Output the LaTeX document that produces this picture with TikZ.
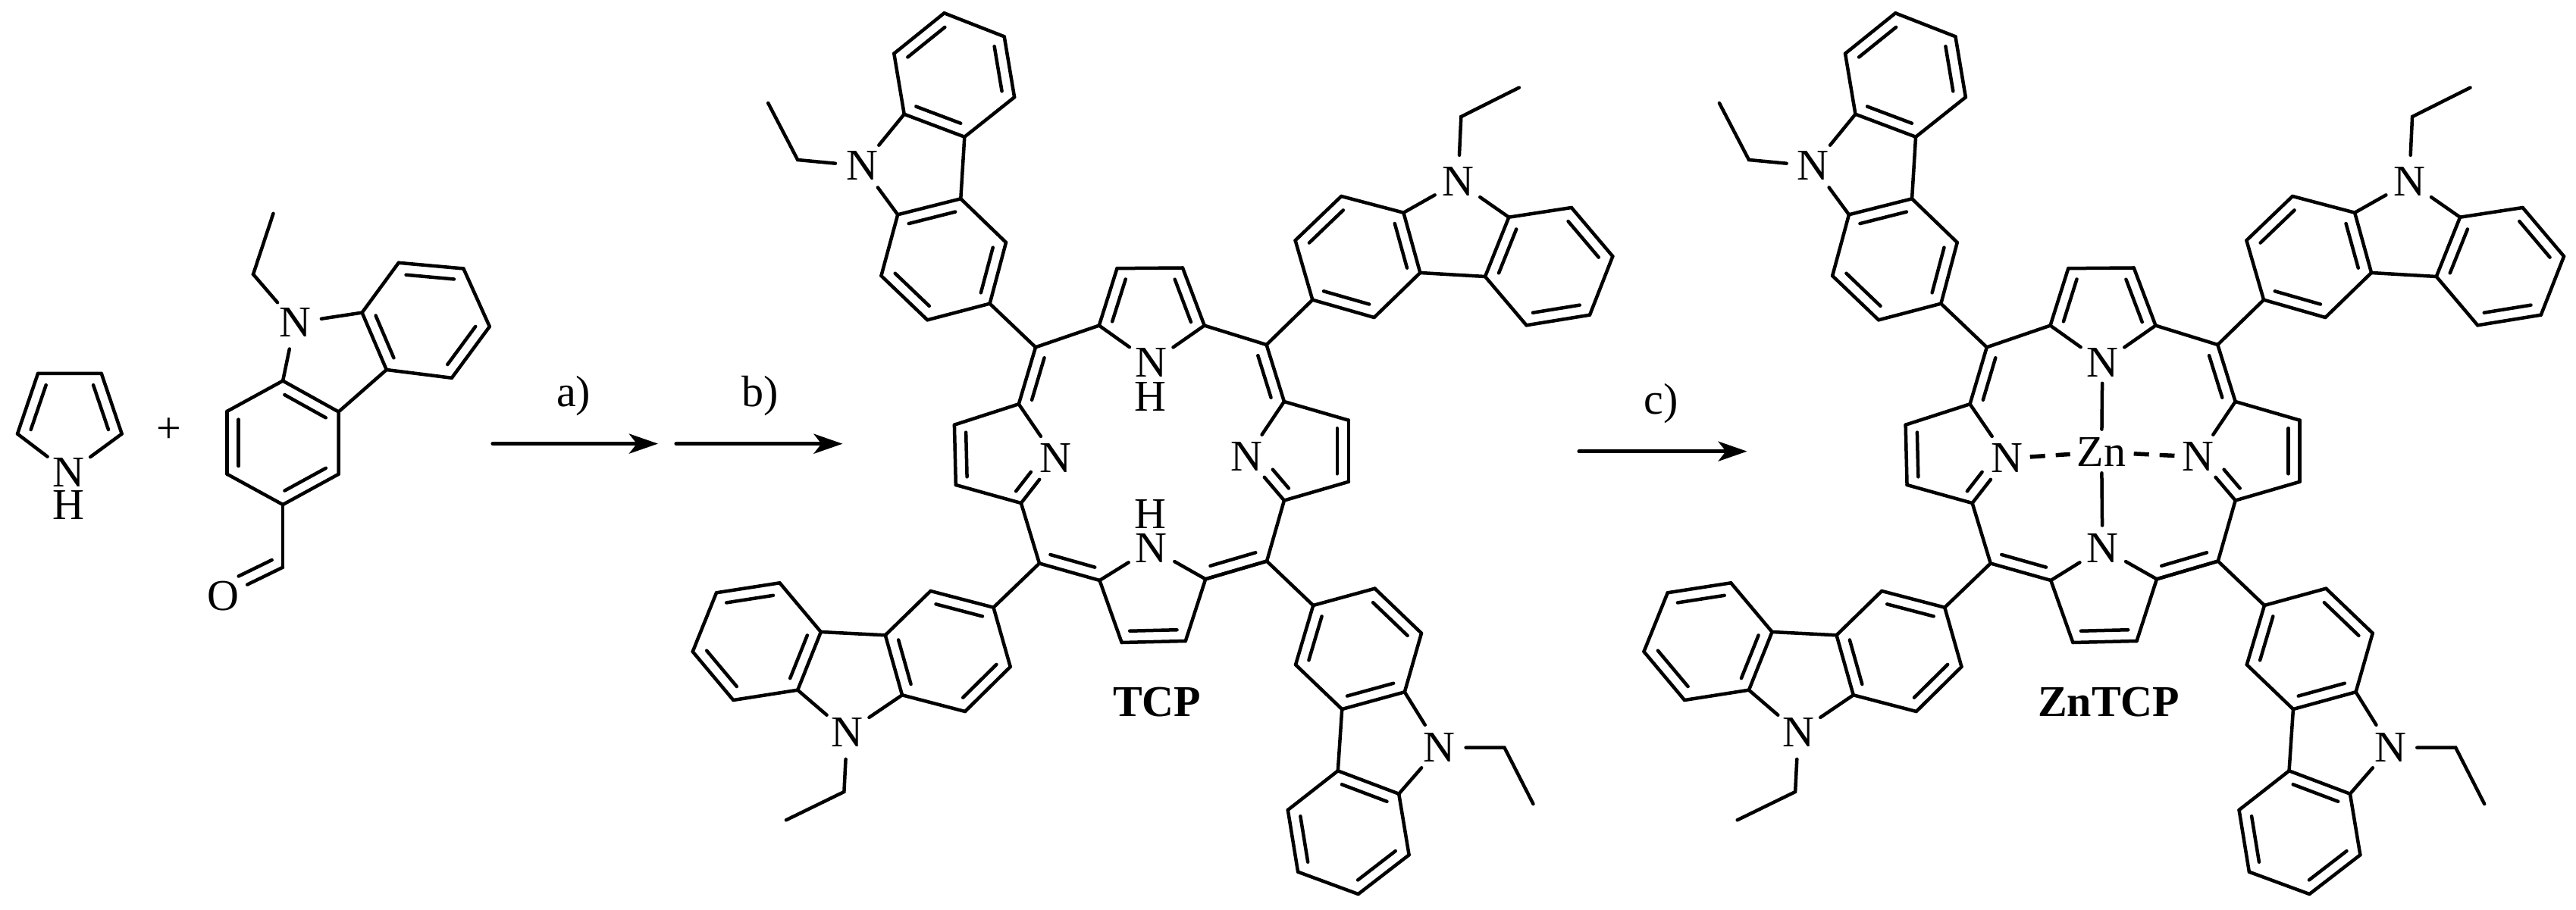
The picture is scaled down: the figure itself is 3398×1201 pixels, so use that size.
\documentclass[tikz,border=0pt]{standalone}
\usepackage{fontspec}
\setmainfont{Liberation Serif}
\usetikzlibrary{calc}
\usetikzlibrary{arrows.meta}

\tikzset{
atom/.style={circle, minimum size=.66cm, inner sep=0pt},
tag/.style={inner sep=0pt},
rxn/.style={line width=.052cm, -{Stealth[length=.38cm,width=.26cm,inset=.1cm]}},
dash bond/.style={line cap=butt, line width=.055cm, dash pattern=on .2cm off .14cm}
}
\newcommand{\dblf}[4]{\draw (#3) -- (#4);
\draw ($(#3)!#1!(#4)!.15cm!90:(#4)$) -- ($(#3)!#2!(#4)!.15cm!90:(#4)$);}
\newcommand{\dbl}[2]{\dblf{.13}{.87}{#1}{#2}}

% u ring carries the substituent at u4, v ring is the far one
\newcommand{\carbazole}[2]{
\begin{scope}[name prefix=#1-]
\foreach \n/\x/\y in {#2}{\coordinate (\n) at (\x,\y);}
\node[atom] (N) at (nc) {N};
\dbl{u2}{u1} \dbl{u4}{u3} \dbl{u6}{u5}
\dbl{v1}{v2} \dbl{v3}{v4} \dbl{v5}{v6}
\draw (u2)--(u3) (u4)--(u5) (u6)--(u1);
\draw (v2)--(v3) (v4)--(v5) (v6)--(v1);
\draw (u2)--(v2);
\draw (N)--(u1) (N)--(v1) (N)--(e1)--(e2);
\end{scope}
}

\newcommand{\tcpframe}[1]{
\carbazole{#1tl}{u1/1184.2/283.3, u2/1267.3/262.3, u3/1327/320, u4/1305.6/400.7, u5/1223.3/422.3, u6/1162.4/364,
 v1/1192.7/150.7, v2/1272.3/180.7, v3/1338.1/128.3, v4/1324.7/48.3, v5/1245.5/17.3, v6/1179.3/70.7,
 nc/1137/219, e1/1052.2/211, e2/1013.2/136}
\carbazole{#1tr}{u1/1851.4/280.7, u2/1873.3/360, u3/1812.6/419, u4/1731.3/395.7, u5/1708.6/317.3, u6/1769.3/259,
 v1/1990.3/286.7, v2/1959/365, v3/2013.5/429.3, v4/2097/415.7, v5/2127.3/338.3, v6/2072.9/274,
 nc/1923.3/240, e1/1927.3/154, e2/2003.7/115.7}
\carbazole{#1bl}{u1/1190/917.3, u2/1167.8/838.3, u3/1227.5/780, u4/1310.5/801.7, u5/1332.7/880, u6/1273/939,
 v1/1052.2/910.7, v2/1082.8/834, v3/1028.5/769.3, v4/945/782.3, v5/913.7/860, v6/967.3/924,
 nc/1117.3/966.7, e1/1113.4/1045, e2/1036.9/1082.3}
\carbazole{#1br}{u1/1852.8/913.3, u2/1770.2/936, u3/1709/877.3, u4/1732.2/799, u5/1813.5/776.7, u6/1875/835.7,
 v1/1845.2/1047.7, v2/1764.8/1017.3, v3/1698.8/1069, v4/1712.1/1150.7, v5/1791.6/1180, v6/1858.6/1128.3,
 nc/1898.3/986.7, e1/1984.5/986.7, e2/2022.4/1061}
\begin{scope}[name prefix=#1]
\foreach \n/\x/\y in {m1/1366/458.3, m2/1670.6/455, m3/1671/740.6, m4/1371/743.5,
 ta1/1449.8/429.6, ta2/1473.5/354.2, ta3/1560/353.5, ta4/1588.7/429.6,
 ra1/1693.9/530, rb1/1778.9/554.7, rb2/1778.9/635.8, ra2/1693.9/660.5,
 ba1/1590.2/764.3, bb1/1563.8/846, bb2/1479.6/848, ba2/1450.5/766,
 la1/1343.8/533.3, lb1/1258.9/560.7, lb2/1260.8/640, la2/1346.9/664}{\coordinate (\n) at (\x,\y);}
\node[atom] (Nt) at (1518.6,478.6) {N};
\node[atom] (Nr) at (1644.9,603) {N};
\node[atom] (Nb) at (1518.6,723.7) {N};
\node[atom] (Nl) at (1392.8,605) {N};
\draw (m1)--(tl-u4) (m2)--(tr-u4) (m3)--(br-u4) (m4)--(bl-u4);
\draw (m1)--(ta1) (ta2)--(ta3) (ta4)--(m2) (Nt)--(ta1) (Nt)--(ta4);
\dbl{ta2}{ta1} \dbl{ta4}{ta3}
\draw (ra1)--(rb1) (rb2)--(ra2) (ra2)--(m3) (Nr)--(ra1);
\dbl{ra1}{m2} \dbl{rb2}{rb1} \dblf{.46}{.89}{Nr}{ra2}
\draw (m3)--(ba1) (ba1)--(bb1) (bb2)--(ba2) (Nb)--(ba1) (Nb)--(ba2);
\dbl{ba1}{m3} \dbl{bb2}{bb1} \dbl{m4}{ba2}
\draw (la1)--(lb1) (lb2)--(la2) (la2)--(m4) (Nl)--(la1);
\dbl{m1}{la1} \dbl{lb1}{lb2} \dblf{.11}{.54}{la2}{Nl}
\end{scope}
}

\begin{document}
\begin{tikzpicture}[x=.01cm, y=-.01cm, line width=.045cm, line cap=round,
font=\fontsize{16.5}{20}\selectfont]
\useasboundingbox (0,0) rectangle (3398,1201);

% pyrrole
\node[atom] (pyN) at (90.7,624) {N};
\node[tag] (pyH) at (90.7,667) {H};
\foreach \n/\x/\y in {py1/23/572.6, py2/50/493, py3/133.8/493, py4/160.7/572.6}{\coordinate (\n) at (\x,\y);}
\draw (pyN)--(py1) (py2)--(py3) (py4)--(pyN);
\dbl{py2}{py1} \dbl{py4}{py3}
\node[tag] (plus) at (222.7,568.4) {+};

% aldehyde
\carbazole{ca}{u1/373.1/502.6, u2/446.6/543.5, u3/446.6/625.8, u4/373.1/666, u5/299.7/625.8, u6/299.7/542.8,
 v1/477.6/412.6, v2/509.8/488, v3/595.9/498.8, v4/645.8/431, v5/611.4/354.5, v6/525.8/346.8,
 nc/389/426, e1/334/362, e2/360.5/281.8}
\coordinate (cho) at (373.1,748.7);
\node[atom] (oxy) at (294.5,787) {O};
\draw (ca-u4)--(cho);
\dblf{.34}{.9}{oxy}{cho}

% arrows
\coordinate (a0) at (650,585.6);
\coordinate (a1) at (868,585.6);
\coordinate (b0) at (892,585.7);
\coordinate (b1) at (1111.5,585.7);
\coordinate (c0) at (2083,595.7);
\coordinate (c1) at (2304.6,595.7);
\draw[rxn] (a0)--(a1);
\draw[rxn] (b0)--(b1);
\draw[rxn] (c0)--(c1);
\node[tag] (la) at (756.6,522.5) {a)};
\node[tag] (lb) at (1002.5,523) {b)};
\node[tag] (lc) at (2190.8,533) {c)};

% free base
\tcpframe{p}
\node[tag] (pHt) at (1517.9,523.2) {H};
\node[tag] (pHb) at (1517.9,679) {H};
\node[tag] (ltcp) at (1526,927) {\bfseries TCP};

% zinc complex
\begin{scope}[xshift=12.54cm]
\tcpframe{z}
\begin{scope}[name prefix=z]
\node[atom] (Zn) at (1517.4,596.7) {Zn};
\draw[shorten <=-.08cm, shorten >=-.095cm] (Nt)--(Zn);
\draw[shorten <=-.12cm, shorten >=-.05cm] (Zn)--(Nb);
\draw[dash bond, shorten <=-.05cm, shorten >=.02cm] (Nl)--(Zn);
\draw[dash bond, shorten <=.03cm, shorten >=-.04cm] (Zn)--(Nr);
\end{scope}
\node[tag] (lzn) at (1527,927) {\bfseries ZnTCP};
\end{scope}
\end{tikzpicture}
\end{document}
